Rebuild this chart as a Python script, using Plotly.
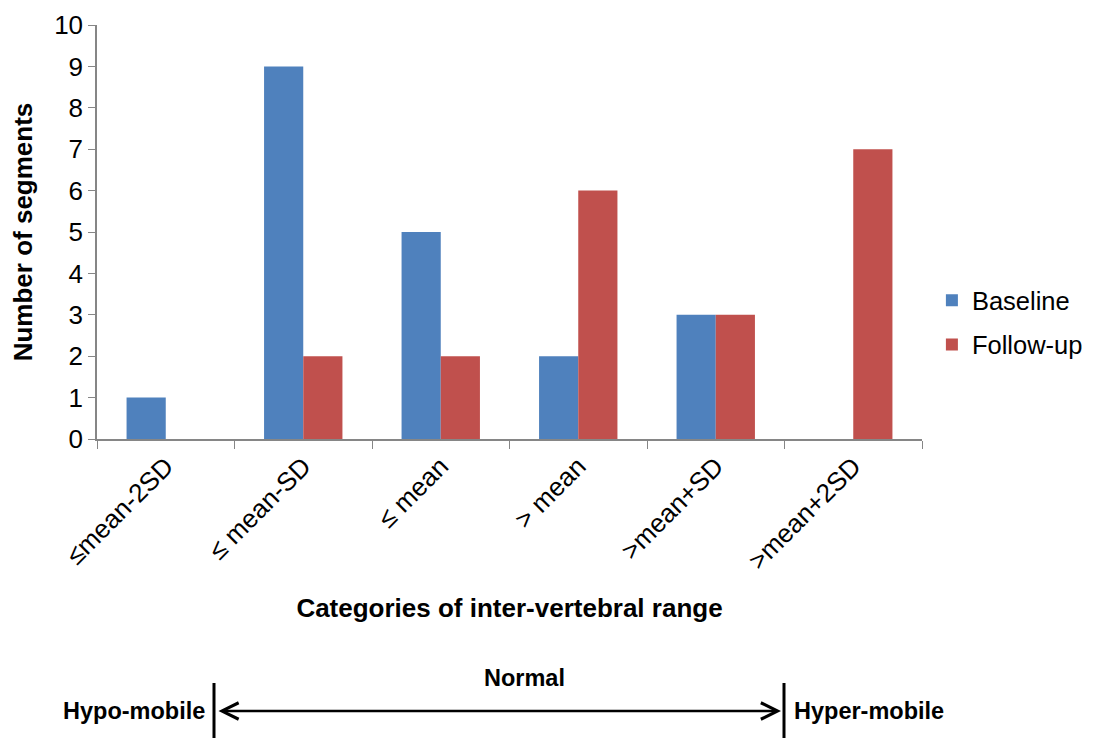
import plotly.graph_objects as go

categories = ["≤mean-2SD", "≤ mean-SD", "≤ mean", "> mean", ">mean+SD", ">mean+2SD"]
baseline = [1, 9, 5, 2, 3, 0]
followup = [0, 2, 2, 6, 3, 7]
series_names = ["Baseline", "Follow-up"]
y_ticks = list(range(0, 11))

FONT = "Liberation Sans, Arial, sans-serif"
AXIS_COLOR = "#868686"

# page has an 8px body margin; figure sized so it fits the 1100x738 window
OFF = 8
W, H = 1100 - OFF, 738 - OFF
PL, PR, PT, PB = 97, 922, 25, 439  # plot area in page pixels

fig = go.Figure()
fig.add_trace(go.Bar(x=categories, y=baseline, name=series_names[0],
                     marker=dict(color="#4F81BD", line=dict(width=0)),
                     legendgroup="a"))
fig.add_trace(go.Bar(x=categories, y=followup, name=series_names[1],
                     marker=dict(color="#C0504D", line=dict(width=0)),
                     legendgroup="b"))

fig.update_layout(
    width=W, height=H,
    margin=dict(l=PL - OFF, r=W - (PR - OFF), t=PT - OFF, b=H - (PB - OFF),
                autoexpand=False),
    plot_bgcolor="white", paper_bgcolor="white",
    font=dict(family=FONT, size=26, color="black"),
    barmode="group", bargap=0.43, bargroupgap=0,
    legend=dict(x=1.012, xanchor="left", y=0.281, yanchor="middle",
                font=dict(size=25.5), tracegroupgap=8,
                traceorder="grouped", itemwidth=30),
    showlegend=True,
)
fig.update_xaxes(
    type="category", range=[-0.5, 5.5], automargin=False,
    showline=True, linecolor=AXIS_COLOR, linewidth=1.5,
    ticks="outside", tickson="boundaries", ticklen=8, tickcolor=AXIS_COLOR,
    tickangle=-45, tickfont=dict(size=26),
    showgrid=False, zeroline=False,
    title=dict(text="<b>Categories of inter-vertebral range</b>",
               font=dict(size=26), standoff=24),
)
fig.update_yaxes(
    range=[0, 10], tickvals=y_ticks, automargin=False,
    showline=True, linecolor=AXIS_COLOR, linewidth=1.5,
    ticks="outside", ticklen=7, tickcolor=AXIS_COLOR,
    tickfont=dict(size=26),
    showgrid=False, zeroline=False,
    title=dict(text="<b>Number of segments</b>", font=dict(size=26), standoff=14),
)

pw, ph = PR - PL, PB - PT
def px(pix):
    return (pix - PL) / pw
def py(pix):
    return (PB - pix) / ph

x_left, x_right = px(214), px(784)
for xv in (x_left, x_right):
    fig.add_shape(type="line", xref="paper", yref="paper",
                  x0=xv, x1=xv, y0=py(683), y1=py(740),
                  line=dict(color="black", width=3))

span_px = (784 - 214) - 6
fig.add_annotation(xref="paper", yref="paper", x=px(781), y=py(711),
                   ax=-span_px, ay=0, text="", showarrow=True,
                   arrowhead=5, arrowside="end+start", arrowwidth=2.5,
                   arrowsize=1.3, arrowcolor="black")
fig.add_annotation(xref="paper", yref="paper", x=px(524), y=py(678),
                   yanchor="middle", text="<b>Normal</b>", showarrow=False,
                   font=dict(size=23.5))
fig.add_annotation(xref="paper", yref="paper", x=px(207), y=py(711),
                   xanchor="right", yanchor="middle", text="<b>Hypo-mobile</b>",
                   showarrow=False, font=dict(size=23.5))
fig.add_annotation(xref="paper", yref="paper", x=px(792), y=py(711),
                   xanchor="left", yanchor="middle", text="<b>Hyper-mobile</b>",
                   showarrow=False, font=dict(size=23.5))

fig.write_html("out.html")
